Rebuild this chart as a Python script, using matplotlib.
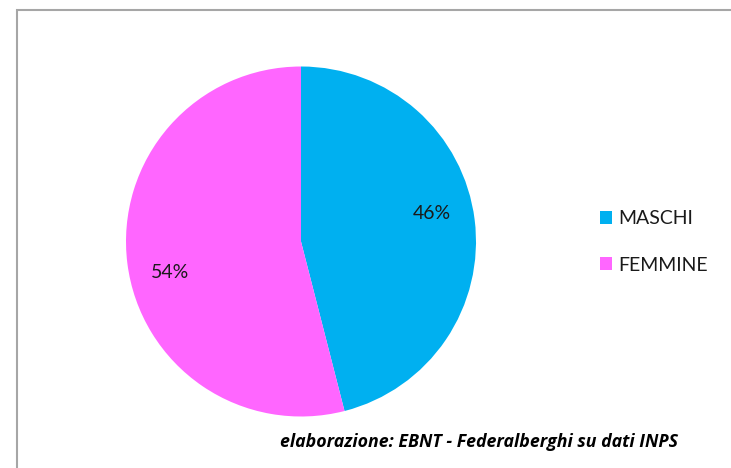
import matplotlib.pyplot as plt
from matplotlib.patches import Rectangle

labels = ['MASCHI', 'FEMMINE']
values = [46, 54]
colors = ['#00B0F0', '#FF66FF']
source = 'elaborazione: EBNT - Federalberghi su dati INPS'

plt.rcParams['font.family'] = ['Lato', 'DejaVu Sans']

fig = plt.figure(figsize=(7.31, 4.68), dpi=100)

# outer frame (runs off the right and bottom edges)
fig.patches.append(Rectangle((17 / 731, -0.02), 1.0, (468 - 10) / 468 + 0.02,
                             transform=fig.transFigure, fill=False,
                             edgecolor='#A6A6A6', linewidth=1.5))

# pie axes: centre (301, 241.5), radius ~175 px
r = 175
ax = fig.add_axes([(301 - r) / 731, (468 - 241.5 - r) / 468, 2 * r / 731, 2 * r / 468])
wedges, texts, autotexts = ax.pie(values, colors=colors, startangle=90, counterclock=False,
                                  autopct='%d%%', pctdistance=0.77,
                                  wedgeprops=dict(linewidth=0))
ax.set_xlim(-1, 1)
ax.set_ylim(-1, 1)
ax.set_aspect('auto')
for t in autotexts:
    t.set_fontsize(14)
    t.set_color('#1a1a1a')
# nudge labels a bit away from the horizontal axis, as in the original
autotexts[0].set_position((0.75, 0.16))
autotexts[1].set_position((-0.75, -0.175))

leg = fig.legend(wedges, labels, loc='center left', bbox_to_anchor=(582 / 731, 1 - 242 / 468),
                 frameon=False, fontsize=14, handlelength=0.65, handleheight=0.65,
                 handletextpad=0.3, labelspacing=1.5)
for t in leg.get_texts():
    t.set_color('#1a1a1a')

fig.text(678 / 731, 1 - 442 / 468, source, ha='right', va='center',
         fontsize=12.8, fontweight='bold', fontstyle='italic',
         family=['Open Sans', 'DejaVu Sans'])

fig.savefig('out.png', dpi=100)
